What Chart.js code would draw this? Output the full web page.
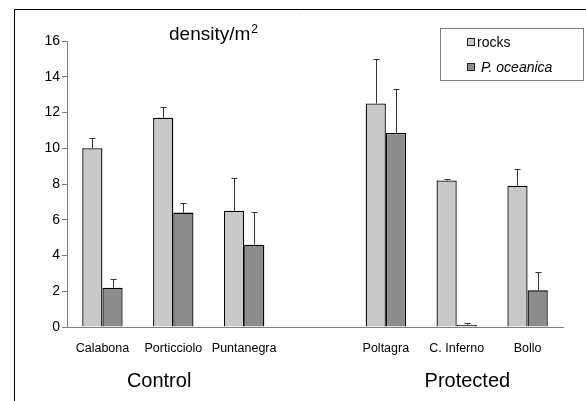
<!DOCTYPE html>
<html>
<head>
<meta charset="utf-8">
<script src="https://cdn.jsdelivr.net/npm/chart.js@4/dist/chart.umd.min.js"></script>
<style>
  html, body { margin: 0; padding: 0; background: #fff; }
  #wrap { width: 586px; height: 401px; }
</style>
</head>
<body>
<div id="wrap"><canvas id="densityChart" width="586" height="401"></canvas></div>
<script>
// sites (empty slot separates the two groups)
const categories = ["Calabona", "Porticciolo", "Puntanegra", "", "Poltagra", "C. Inferno", "Bollo"];
const rocks = [10.0, 11.7, 6.5, null, 12.5, 8.2, 7.9];
const rocksErr = [10.55, 12.3, 8.35, null, 15.0, 8.3, 8.85];
const oceanica = [2.2, 6.4, 4.6, null, 10.85, 0.12, 2.05];
const oceanicaErr = [2.7, 6.95, 6.45, null, 13.3, 0.22, 3.05];
const yTicks = [0, 2, 4, 6, 8, 10, 12, 14, 16];
const groupNames = ["Control", "Protected"];

const FONT = 'Arial, "Liberation Sans", sans-serif';

const decorPlugin = {
    id: "decor",
    beforeDraw(chart) {
        const ctx = chart.ctx;
        ctx.save();
        ctx.fillStyle = "#fff";
        ctx.fillRect(0, 0, chart.width, chart.height);
        ctx.restore();
    },
    afterDatasetsDraw(chart) {
        const ctx = chart.ctx;
        const y = chart.scales.y;
        ctx.save();
        ctx.strokeStyle = "#333";
        ctx.lineWidth = 1;
        chart.data.datasets.forEach((ds, di) => {
            const meta = chart.getDatasetMeta(di);
            meta.data.forEach((bar, i) => {
                const top = ds.errTop[i];
                if (top == null) return;
                const x = Math.round(bar.x) + 0.5;
                const yt = Math.round(y.getPixelForValue(top)) + 0.5;
                ctx.beginPath();
                ctx.moveTo(x, bar.y);
                ctx.lineTo(x, yt);
                ctx.moveTo(x - 3, yt);
                ctx.lineTo(x + 3, yt);
                ctx.stroke();
            });
        });
        ctx.restore();
    },
    afterDraw(chart) {
        const ctx = chart.ctx;
        const area = chart.chartArea;
        const x = chart.scales.x;
        ctx.save();

        // outer frame (left and top)
        ctx.strokeStyle = "#000";
        ctx.lineWidth = 1;
        ctx.beginPath();
        ctx.moveTo(14.5, chart.height);
        ctx.lineTo(14.5, 9.5);
        ctx.lineTo(chart.width, 9.5);
        ctx.stroke();

        // title inside the plot
        ctx.fillStyle = "#000";
        ctx.textBaseline = "alphabetic";
        ctx.textAlign = "left";
        ctx.font = "19px " + FONT;
        const tx = area.left + 102;
        ctx.fillText("density/m", tx, 40);
        const w = ctx.measureText("density/m").width;
        ctx.font = "12px " + FONT;
        ctx.fillText("2", tx + w + 1, 33);

        // group labels
        ctx.font = "20px " + FONT;
        ctx.textAlign = "center";
        ctx.textBaseline = "middle";
        const groupAt = [0.8, 5.15];
        groupNames.forEach((g, i) => {
            const px = x.getPixelForValue(0) + groupAt[i] * (x.getPixelForValue(1) - x.getPixelForValue(0));
            ctx.fillText(g, px, 381);
        });

        // legend box
        ctx.strokeStyle = "#808080";
        ctx.strokeRect(440.5, 28.5, 143, 52);
        ctx.textAlign = "left";
        chart.data.datasets.forEach((ds, i) => {
            const cy = 42 + i * 25;
            ctx.fillStyle = ds.backgroundColor;
            ctx.fillRect(468, cy - 3, 6, 6);
            ctx.strokeStyle = "#222";
            ctx.strokeRect(467.5, cy - 3.5, 7, 7);
            ctx.fillStyle = "#000";
            ctx.font = (i === 1 ? "italic " : "") + "14px " + FONT;
            ctx.fillText(ds.label, i === 1 ? 481 : 477, cy + 1);
        });
        ctx.restore();
    }
};

new Chart(document.getElementById("densityChart").getContext("2d"), {
    type: "bar",
    data: {
        labels: categories,
        datasets: [{
            label: "rocks",
            data: rocks,
            errTop: rocksErr,
            backgroundColor: "#c8c8c8",
            borderColor: "#000",
            borderWidth: 1.3,
        }, {
            label: "P. oceanica",
            data: oceanica,
            errTop: oceanicaErr,
            backgroundColor: "#8c8c8c",
            borderColor: "#000",
            borderWidth: 1.3,
        }],
    },
    options: {
        responsive: false,
        animation: false,
        devicePixelRatio: 1,
        categoryPercentage: 0.57,
        barPercentage: 1,
        layout: { padding: { left: 0, top: 41, right: 23, bottom: 0 } },
        plugins: {
            legend: { display: false },
            tooltip: { enabled: false },
        },
        scales: {
            x: {
                grid: { display: true, drawOnChartArea: false, drawTicks: false },
                border: { color: "#808080" },
                ticks: { color: "#000", font: { family: FONT, size: 12.5 }, padding: 14, maxRotation: 0, autoSkip: false },
                afterFit(s) { s.height = 74; },
            },
            y: {
                min: 0,
                max: 16,
                afterBuildTicks(s) { s.ticks = yTicks.map(v => ({ value: v })); },
                grid: { drawOnChartArea: false, drawTicks: true, tickLength: 5, color: "#808080" },
                border: { color: "#808080" },
                ticks: { color: "#000", font: { family: FONT, size: 14 }, padding: 2 },
                afterFit(s) { s.width = 67; },
            },
        },
    },
    plugins: [decorPlugin],
});
</script>
</body>
</html>
